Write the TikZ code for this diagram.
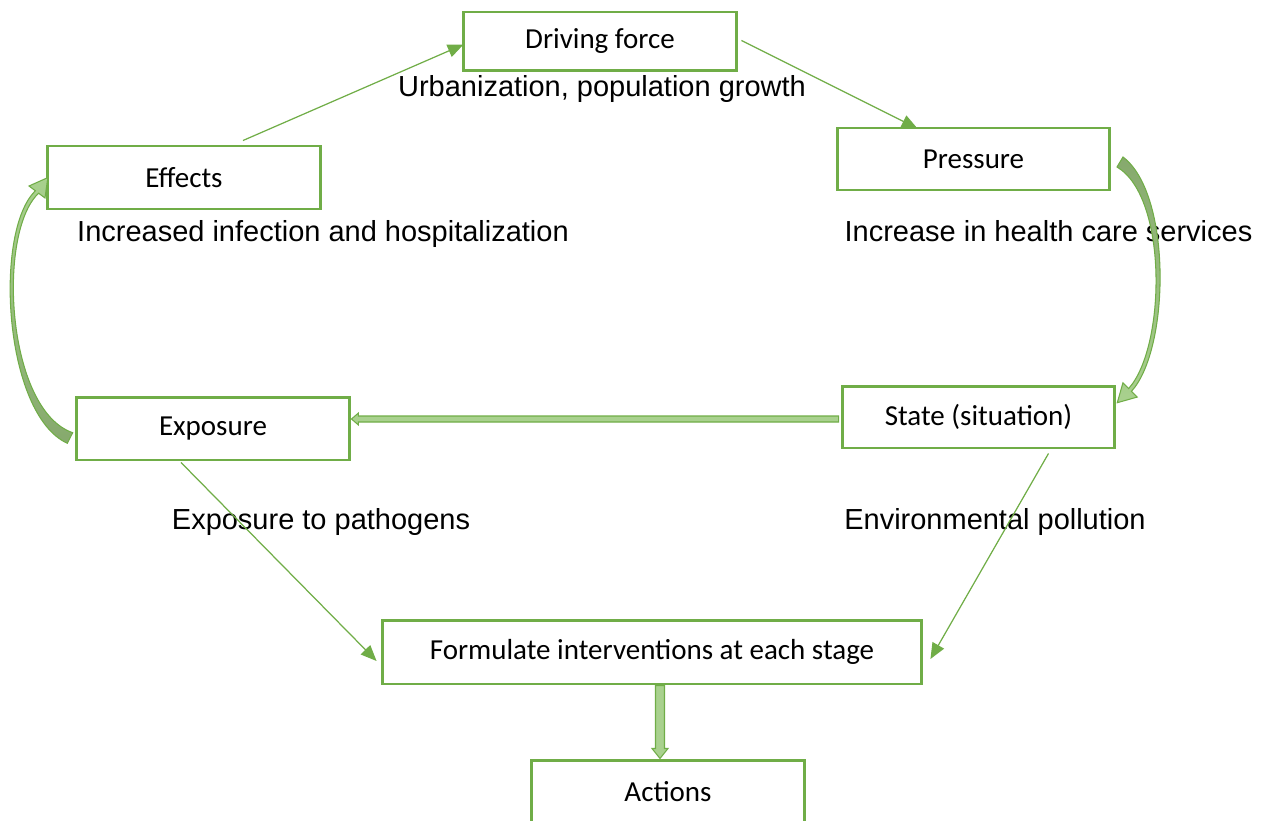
\documentclass[tikz,border=0pt]{standalone}
\usepackage{fontspec}
\setmainfont{Liberation Sans}
\newfontfamily\boxfont{Carlito}
\usetikzlibrary{arrows.meta,calc}
\definecolor{grn}{HTML}{70AD47}
\definecolor{grnlight}{HTML}{A9D18E}
\definecolor{grndark}{HTML}{86A96D}

\begin{document}
\begin{tikzpicture}[x=0.02cm,y=-0.02cm,
  box/.style={draw=grn, line width=1.7pt, fill=white, inner sep=0pt,
    font=\boxfont\fontsize{16.5}{20}\selectfont},
  lbl/.style={font=\fontsize{16.5}{20}\selectfont, inner sep=0pt, anchor=base},
  link/.style={draw=grn, line width=0.7pt, -{Triangle[length=9pt,width=7.5pt]}},
  blockarrow/.style={fill=grnlight, draw=grn, line width=0.6pt},
  curved/.style={draw=grn, line width=0.6pt}]
\useasboundingbox (0,0) rectangle (1262,821);

% stage boxes
\node[box, minimum width=5.48cm, minimum height=1.18cm] (drv) at (600,41.5) {Driving force};
\node[box, minimum width=5.48cm, minimum height=1.26cm] (eff) at (184,177.5) {Effects};
\node[box, minimum width=5.46cm, minimum height=1.24cm] (prs) at (973.5,159) {Pressure};
\node[box, minimum width=5.46cm, minimum height=1.24cm] (sta) at (978.5,417) {State (situation)};
\node[box, minimum width=5.48cm, minimum height=1.26cm] (exps) at (213,428.5) {Exposure};
\node[box, minimum width=10.8cm, minimum height=1.28cm] (fml) at (652,652) {Formulate interventions at each stage};
\node[box, minimum width=5.48cm, minimum height=1.28cm] (act) at (668,792) {Actions};

% descriptions under the stages
\node[lbl] (l1) at (602,97) {Urbanization, population growth};
\node[lbl] (l2) at (323,241) {Increased infection and hospitalization};
\node[lbl] (l3) at (1048.5,241) {Increase in health care services};
\node[lbl] (l4) at (321,529) {Exposure to pathogens};
\node[lbl] (l5) at (995,529) {Environmental pollution};

% thin connectors
\draw[link] ($(eff.north)+(59,-4)$) -- ($(drv.west)+(2,3)$);
\draw[link] ($(drv.east)+(3,-1)$) -- ($(prs.north)+(-56,2)$);
\draw[link] ($(exps.south)+(-32,1)$) -- ($(fml.west)+(-4,9)$);
\draw[link] ($(sta.south)+(70,4)$) -- ($(fml.east)+(7,7)$);

% block arrow: state -> exposure
\coordinate (bs) at ($(sta.west)+(-2,2)$);
\coordinate (bt) at (bs -| exps.east);
\filldraw[blockarrow] ($(bs)+(0,-3)$) -- ($(bt)+(7,-3)$) -- ($(bt)+(7,-6)$) -- (bt)
  -- ($(bt)+(7,6)$) -- ($(bt)+(7,3)$) -- ($(bs)+(0,3)$) -- cycle;

% block arrow: interventions -> actions
\coordinate (ds) at ($(fml.south)+(8,0)$);
\coordinate (dt) at (ds |- act.north);
\filldraw[blockarrow] ($(ds)+(-4.5,0)$) -- ($(dt)+(-4.5,-10)$) -- ($(dt)+(-8,-10)$) -- (dt)
  -- ($(dt)+(8,-10)$) -- ($(dt)+(4.5,-10)$) -- ($(ds)+(4.5,0)$) -- cycle;

% curved arrow: pressure -> state (tapering)
\draw[curved, top color=grndark, bottom color=grnlight]
  (1123,157) .. controls (1172,194) and (1170,349) .. (1131.4,391.4)
  -- (1137.1,397.1) -- (1117.3,402.7) -- (1122.9,382.9) -- (1128.6,388.6)
  .. controls (1166,347) and (1168,197) .. (1117,167) -- cycle;

% curved arrow: exposure -> effects (tapering)
\draw[curved, top color=grnlight, bottom color=grndark]
  (67.3,443.3) .. controls (3.5,414) and (-6.5,231) .. (35.4,190.8)
  -- (29,186) -- (47.8,177.6) -- (45,198) -- (38.6,193.2)
  .. controls (-3.5,233) and (6.5,410) .. (72.7,432.7) -- cycle;
\end{tikzpicture}
\end{document}
